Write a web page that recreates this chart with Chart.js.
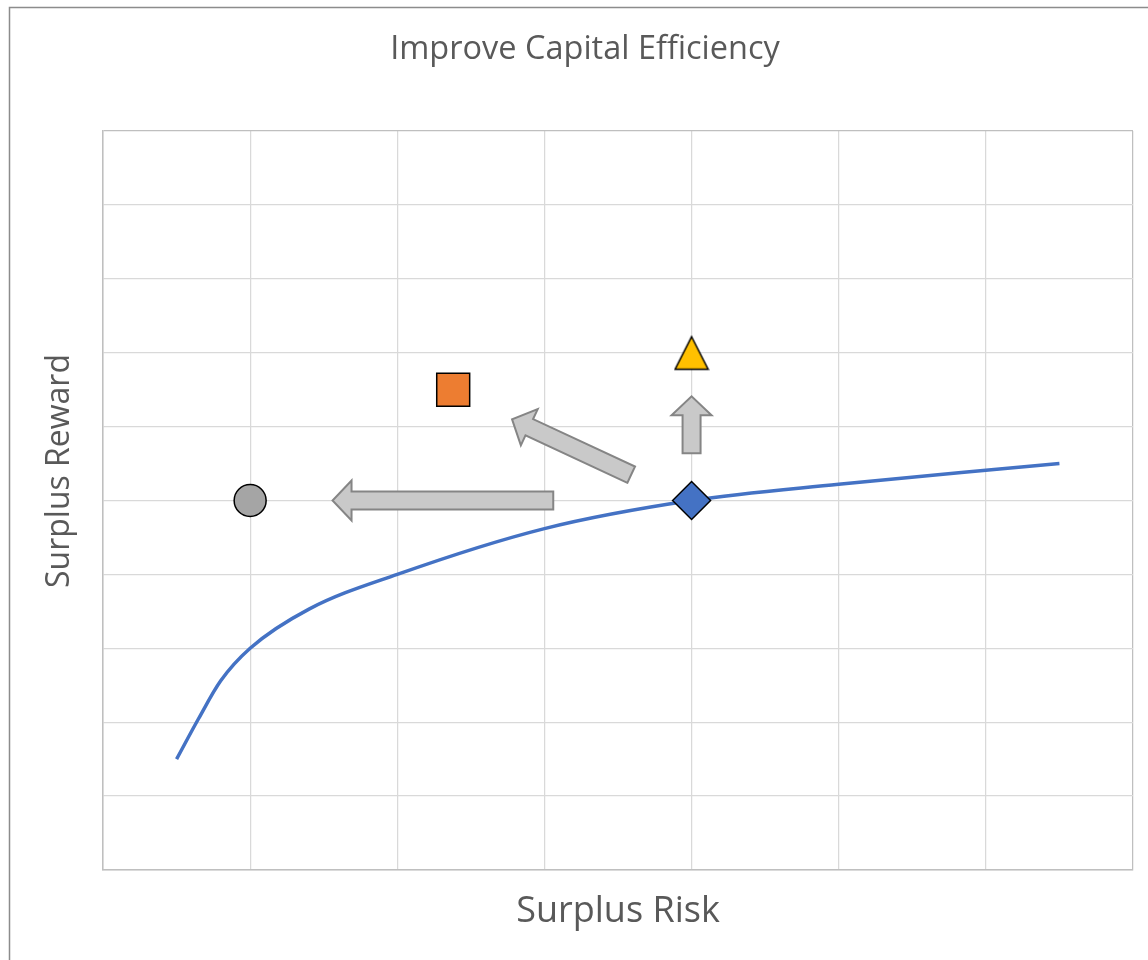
<!DOCTYPE html>
<html>
<head>
<meta charset="utf-8">
<script src="https://cdn.jsdelivr.net/npm/chart.js@4.4.1/dist/chart.umd.min.js"></script>
<style>
  body { margin: 0; background: #fff; }
  canvas { display: block; }
</style>
</head>
<body>
<canvas id="chart" width="1148" height="960"></canvas>
<script>
// efficient frontier
const frontierX = [0.5, 0.65, 0.8, 1, 1.4, 2, 3, 4, 5, 6, 6.5];
const frontierY = [1.5, 2.05, 2.56, 3.0, 3.53, 4.0, 4.62, 5.0, 5.22, 5.41, 5.5];

// portfolios
const markerNames = ['Current', 'Lower Risk', 'Better Mix', 'Higher Reward'];
const markerX = [4, 1, 2.38, 4];
const markerY = [5, 5, 6.5, 7];

// arrows: tail -> tip
const arrowFromX = [3.06, 3.59, 4];
const arrowFromY = [5, 5.35, 5.64];
const arrowToX = [1.56, 2.78, 4];
const arrowToY = [5, 6.10, 6.41];

const chartTitle = 'Improve Capital Efficiency';
const xTitle = 'Surplus Risk';
const yTitle = 'Surplus Reward';

const FONT = "'Open Sans', sans-serif";
const TEXT = '#595959';

// triangle marker like the Excel one
function triangleImg() {
    const c = document.createElement('canvas');
    c.width = 36; c.height = 36;
    const g = c.getContext('2d');
    g.beginPath();
    g.moveTo(18, 2);
    g.lineTo(34.5, 34.5);
    g.lineTo(1.5, 34.5);
    g.closePath();
    g.fillStyle = '#ffc000';
    g.fill();
    g.lineWidth = 1.5;
    g.strokeStyle = '#000';
    g.stroke();
    return c;
}

const outerBorder = {
    id: 'outerBorder',
    beforeDraw(chart) {
        const c = chart.ctx;
        c.save();
        c.strokeStyle = '#8c8c8c';
        c.lineWidth = 1.5;
        c.beginPath();
        c.moveTo(9.5, 960);
        c.lineTo(9.5, 7.5);
        c.lineTo(1148, 7.5);
        c.stroke();
        c.restore();
    }
};

// chart title and y title are off-centre in the original (excel frame is wider than the shot)
const texts = {
    id: 'texts',
    afterDraw(chart) {
        const c = chart.ctx;
        c.save();
        c.fillStyle = TEXT;
        c.textAlign = 'center';
        c.textBaseline = 'middle';
        c.font = '32.5px ' + FONT;
        c.fillText(chartTitle, 585, 50);
        c.translate(60, 471);
        c.rotate(-Math.PI / 2);
        c.font = '32px ' + FONT;
        c.fillText(yTitle, 0, 0);
        c.restore();
    }
};

const arrows = {
    id: 'arrows',
    beforeDatasetsDraw(chart) {
        const c = chart.ctx;
        const xs = chart.scales.x, ys = chart.scales.y;
        c.save();
        for (let i = 0; i < arrowFromX.length; i++) {
            const x0 = xs.getPixelForValue(arrowFromX[i]);
            const y0 = ys.getPixelForValue(arrowFromY[i]);
            const x1 = xs.getPixelForValue(arrowToX[i]);
            const y1 = ys.getPixelForValue(arrowToY[i]);
            const len = Math.hypot(x1 - x0, y1 - y0);
            const ang = Math.atan2(y1 - y0, x1 - x0);
            const sw = 9, hw = 20, hl = 19;
            c.save();
            c.translate(x0, y0);
            c.rotate(ang);
            c.beginPath();
            c.moveTo(0, -sw);
            c.lineTo(len - hl, -sw);
            c.lineTo(len - hl, -hw);
            c.lineTo(len, 0);
            c.lineTo(len - hl, hw);
            c.lineTo(len - hl, sw);
            c.lineTo(0, sw);
            c.closePath();
            c.fillStyle = '#c9c9c9';
            c.fill();
            c.lineWidth = 2;
            c.strokeStyle = '#858585';
            c.stroke();
            c.restore();
        }
        c.restore();
    }
};

const styles = ['rectRot', 'circle', 'rect', triangleImg()];
const fills = ['#4472c4', '#a5a5a5', '#ed7d31', '#ffc000'];
const radii = [19, 16, 23.3, 18];

const markerSets = markerNames.map((name, i) => ({
    label: name,
    data: [{ x: markerX[i], y: markerY[i] }],
    pointStyle: styles[i],
    pointRadius: radii[i],
    pointHoverRadius: radii[i],
    backgroundColor: fills[i],
    borderColor: '#000',
    borderWidth: 1.5,
    showLine: false
}));

// draw order: first dataset ends on top
const datasets = [markerSets[1], markerSets[2], markerSets[3], markerSets[0], {
    label: 'Frontier',
    data: frontierX.map((x, i) => ({ x: x, y: frontierY[i] })),
    showLine: true,
    pointRadius: 0,
    borderColor: '#4472c4',
    borderWidth: 3.5,
    cubicInterpolationMode: 'monotone'
}];

function gridColor(max) {
    return ctx => ctx.tick && ctx.tick.value === max ? '#bfbfbf' : '#d9d9d9';
}

new Chart(document.getElementById('chart'), {
    type: 'scatter',
    data: { datasets: datasets },
    plugins: [outerBorder, arrows, texts],
    options: {
        responsive: false,
        animation: false,
        layout: { autoPadding: false, padding: { left: 0, right: 15, top: 131, bottom: 0 } },
        plugins: {
            legend: { display: false },
            tooltip: { enabled: false },
            title: { display: false }
        },
        scales: {
            x: {
                type: 'linear',
                min: 0, max: 7,
                ticks: { display: false, stepSize: 1 },
                grid: { color: gridColor(7), drawTicks: false, lineWidth: 1.25 },
                border: { color: '#bfbfbf', width: 1.5 },
                title: {
                    display: true, text: xTitle, color: TEXT,
                    font: { family: FONT, size: 36 },
                    padding: { top: 0, bottom: 26.4 }
                },
                afterFit(s) { s.height = 90; }
            },
            y: {
                type: 'linear',
                min: 0, max: 10,
                ticks: { display: false, stepSize: 1 },
                grid: { color: gridColor(10), drawTicks: false, lineWidth: 1.25 },
                border: { color: '#bfbfbf', width: 1.5 },
                afterFit(s) { s.width = 103; }
            }
        }
    }
});
</script>
</body>
</html>
